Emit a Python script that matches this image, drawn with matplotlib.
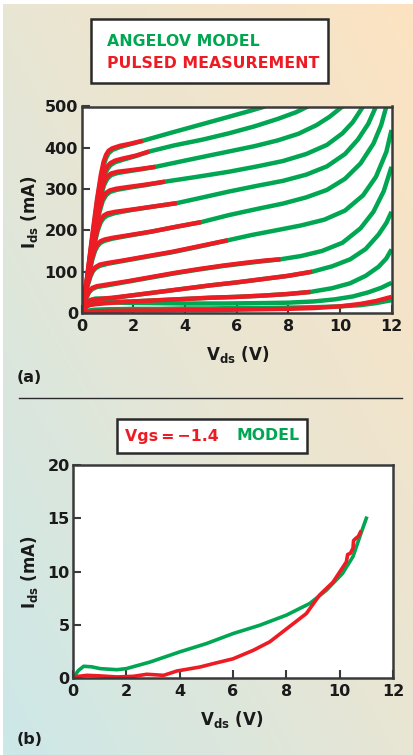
import numpy as np
import matplotlib
matplotlib.use("Agg")
import matplotlib.pyplot as plt
from matplotlib.patches import Rectangle
from matplotlib.lines import Line2D
from matplotlib.colors import LinearSegmentedColormap

plt.rcParams['font.family'] = ['DejaVu Sans']
plt.rcParams['font.weight'] = 'bold'
plt.rcParams['mathtext.default'] = 'bf'

GREEN = '#00a651'
RED = '#ed1c24'
DARK = '#2a2a2a'

# ---- (a) Ids-Vds family: Angelov model (green) and pulsed measurement (red)
model_vds = [
    [0, 0.2, 0.4, 0.6, 0.75, 0.85, 0.95, 1.05, 1.2, 1.5, 1.9, 2.37, 3.5, 4.6, 5.7, 6.5, 7.1],
    [0, 0.2, 0.4, 0.6, 0.75, 0.88, 1.0, 1.12, 1.3, 1.6, 2.1, 2.62, 3.6, 4.7, 5.7, 6.7, 7.6, 8.3, 8.76],
    [0, 0.2, 0.4, 0.6, 0.75, 0.88, 1.0, 1.15, 1.4, 1.8, 2.3, 2.87, 4.0, 5.0, 5.7, 6.7, 7.6, 8.4, 9.1, 9.6, 10.1],
    [0, 0.2, 0.4, 0.55, 0.7, 0.82, 0.95, 1.1, 1.35, 1.8, 2.5, 3.23, 4.5, 5.7, 6.8, 7.8, 8.7, 9.5, 10.1, 10.5, 10.9],
    [0, 0.2, 0.35, 0.5, 0.62, 0.74, 0.86, 1.0, 1.3, 1.9, 2.7, 3.69, 4.7, 5.7, 6.8, 7.8, 8.7, 9.5, 10.2, 10.7, 11.1, 11.4],
    [0, 0.15, 0.3, 0.42, 0.52, 0.62, 0.74, 0.9, 1.2, 1.8, 2.7, 3.6, 4.63, 5.7, 6.8, 7.8, 8.7, 9.5, 10.2, 10.8, 11.3, 11.6, 11.8],
    [0, 0.12, 0.25, 0.35, 0.44, 0.54, 0.7, 1.0, 1.6, 2.5, 3.5, 4.5, 5.66, 6.6, 7.6, 8.5, 9.4, 10.2, 10.9, 11.4, 11.8, 12.0],
    [0, 0.1, 0.2, 0.3, 0.42, 0.6, 1.0, 1.8, 2.7, 3.6, 4.5, 5.5, 6.4, 7.1, 7.7, 8.5, 9.3, 10.1, 10.8, 11.3, 11.7, 12.0],
    [0, 0.1, 0.2, 0.35, 0.55, 0.8, 1.2, 2.0, 3.0, 4.0, 5.0, 6.0, 7.0, 8.0, 8.93, 9.7, 10.4, 11.0, 11.5, 11.8, 12.0],
    [0, 0.1, 0.2, 0.35, 0.6, 1.0, 2.0, 3.0, 4.0, 5.0, 6.0, 7.0, 8.0, 8.86, 9.7, 10.4, 11.0, 11.5, 11.8, 12.0],
    [0, 0.15, 0.3, 0.5, 0.7, 1.0, 1.5, 2.5, 4.0, 5.5, 7.0, 8.0, 9.0, 9.8, 10.5, 11.1, 11.6, 12.0],
    [0, 0.2, 0.5, 1.0, 2.0, 3.0, 4.0, 5.0, 6.0, 7.0, 8.0, 9.0, 10.0, 10.8, 11.4, 12.0],
]
model_ids = [
    [0, 76, 174, 268, 326, 356, 375, 387, 395, 402, 409, 417, 437, 456, 475, 489, 500],
    [0, 72, 165, 250, 302, 332, 348, 358, 365, 371, 380, 391, 406, 420, 435, 452, 470, 486, 500],
    [0, 69, 155, 236, 283, 311, 325, 334, 339, 343, 348, 354, 369, 382, 391, 404, 418, 434, 455, 475, 500],
    [0, 65, 143, 199, 245, 271, 285, 293, 298, 303, 310, 318, 330, 342, 355, 368, 385, 407, 435, 462, 500],
    [0, 61, 116, 165, 198, 219, 230, 236, 242, 249, 257, 266, 280, 294, 308, 320, 335, 355, 385, 420, 458, 500],
    [0, 47, 96, 130, 150, 162, 170, 175, 180, 187, 197, 208, 220, 237, 252, 265, 280, 298, 325, 362, 410, 455, 500],
    [0, 36, 69, 89, 101, 108, 114, 119, 126, 136, 147, 160, 176, 189, 201, 212, 226, 248, 285, 330, 390, 443],
    [0, 20, 38, 51, 58, 63, 67, 76, 86, 96, 105, 114, 121, 126, 130, 138, 150, 170, 205, 245, 295, 354],
    [0, 15, 26, 32, 35, 35, 36, 43, 51, 59, 67, 74, 82, 90, 100, 113, 130, 155, 190, 218, 245],
    [0, 12, 20, 26, 28, 27, 28, 31, 34, 37, 39, 42, 46, 51, 60, 72, 90, 112, 132, 154],
    [0, 12, 20, 26, 28, 27, 25, 24, 23, 23, 24, 25, 28, 33, 40, 50, 61, 73],
    [0, 5, 8, 9, 10, 10, 11, 11, 12, 12, 13, 14, 16, 19, 24, 31],
]

pulsed_vds = [
    [0, 0.2, 0.4, 0.6, 0.75, 0.85, 0.95, 1.05, 1.2, 1.5, 1.9, 2.37],
    [0, 0.2, 0.4, 0.6, 0.75, 0.88, 1.0, 1.12, 1.3, 1.6, 2.1, 2.62],
    [0, 0.2, 0.4, 0.6, 0.75, 0.88, 1.0, 1.15, 1.4, 1.8, 2.3, 2.87],
    [0, 0.2, 0.4, 0.55, 0.7, 0.82, 0.95, 1.1, 1.35, 1.8, 2.5, 3.23],
    [0, 0.2, 0.35, 0.5, 0.62, 0.74, 0.86, 1.0, 1.3, 1.9, 2.7, 3.69],
    [0, 0.15, 0.3, 0.42, 0.52, 0.62, 0.74, 0.9, 1.2, 1.8, 2.7, 3.6, 4.63],
    [0, 0.12, 0.25, 0.35, 0.44, 0.54, 0.7, 1.0, 1.6, 2.5, 3.5, 4.5, 5.66],
    [0, 0.1, 0.2, 0.3, 0.42, 0.6, 1.0, 1.8, 2.7, 3.6, 4.5, 5.5, 6.4, 7.1, 7.7],
    [0, 0.08, 0.16, 0.26, 0.4, 0.7, 1.2, 2.0, 3.0, 4.0, 5.0, 6.0, 7.0, 8.0, 8.93],
    [0, 0.08, 0.16, 0.25, 0.5, 1.0, 2.0, 3.0, 4.0, 5.0, 6.0, 7.0, 8.0, 8.86],
    [0, 0.2, 0.5, 1.0, 2.0, 3.0, 4.0, 5.0, 6.0, 7.0, 8.0, 9.0, 10.0, 10.8, 11.4, 12.0],
]
pulsed_ids = [
    [0, 80, 180, 275, 335, 365, 383, 393, 399, 405, 410, 417],
    [0, 75, 170, 258, 310, 340, 355, 363, 369, 374, 381, 391],
    [0, 72, 160, 243, 290, 318, 331, 338, 342, 345, 349, 354],
    [0, 68, 148, 205, 252, 278, 291, 297, 301, 305, 311, 318],
    [0, 64, 120, 170, 204, 225, 236, 241, 245, 250, 257, 266],
    [0, 50, 100, 135, 155, 167, 174, 178, 182, 188, 197, 208, 220],
    [0, 38, 72, 92, 104, 111, 117, 121, 127, 137, 148, 161, 176],
    [0, 22, 40, 53, 61, 65, 69, 77, 87, 97, 106, 115, 122, 127, 130],
    [0, 10, 19, 27, 31, 34, 37, 43, 51, 59, 67, 74, 82, 90, 100],
    [0, 8, 14, 18, 21, 24, 28, 31, 34, 37, 39, 42, 46, 51],
    [0, 2, 4, 5, 6, 6, 7, 7, 8, 9, 10, 12, 16, 22, 29, 39],
]

# ---- (b) Vgs = -1.4 V
b_model_vds = [0, 0.2, 0.4, 0.7, 1.02, 1.65, 2.0, 2.89, 4.0, 5.0, 6.0, 7.0, 8.0,
               8.88, 9.5, 10.1, 10.5, 10.8, 11.0]
b_model_ids = [0, 0.7, 1.1, 1.05, 0.88, 0.78, 0.88, 1.5, 2.45, 3.23, 4.17, 4.95, 5.9,
               7.0, 8.24, 9.8, 11.4, 13.6, 15.0]
b_pulsed_vds = [0, 0.52, 1.0, 1.65, 2.27, 2.77, 3.4, 3.9, 4.76, 5.26, 6.0, 6.76, 7.38,
                8.0, 8.75, 9.25, 9.75, 10.25, 10.3, 10.4, 10.5, 10.52, 10.6, 10.7, 10.78]
b_pulsed_ids = [0.1, 0.25, 0.2, 0.1, 0.16, 0.35, 0.25, 0.66, 1.03, 1.35, 1.8, 2.6, 3.4,
                4.6, 6.05, 7.8, 9.0, 10.9, 11.6, 11.7, 12.2, 12.9, 13.1, 13.3, 13.7]

W, H = 413, 755
fig = plt.figure(figsize=(W / 100, H / 100), dpi=100)
fig.patch.set_facecolor('white')


def fx(px):
    return px / W


def fy(py):
    return 1 - py / H


# background gradient (teal bottom-left to peach top-right)
bg = fig.add_axes([fx(3), 0, 1 - fx(3), fy(4)])
bg.axis('off')
gx, gy = np.meshgrid(np.linspace(0, 1, 200), np.linspace(1, 0, 300))
cmap = LinearSegmentedColormap.from_list(
    'bg', [(0.80, 0.91, 0.91), (0.91, 0.90, 0.83), (0.99, 0.89, 0.76)])
bg.imshow((gx + gy) / 2, cmap=cmap, aspect='auto', extent=[0, 1, 0, 1],
          origin='upper', vmin=0, vmax=1)


def style_axes(ax, xlim, ylim, xticks, yticks):
    ax.set_facecolor('white')
    ax.set_xlim(*xlim)
    ax.set_ylim(*ylim)
    ax.set_xticks(xticks)
    ax.set_yticks(yticks)
    for s in ax.spines.values():
        s.set_color('#3a3a3a')
        s.set_linewidth(1.8)
    ax.tick_params(direction='in', length=6, width=1.5, colors='#3a3a3a',
                   labelcolor='#1a1a1a', labelsize=11.5)
    ax.tick_params(axis='x', pad=4.5)
    ax.tick_params(axis='y', pad=2.5)
    for lbl in ax.get_xticklabels() + ax.get_yticklabels():
        lbl.set_fontweight('bold')


# ---- panel (a)
ax1 = fig.add_axes([fx(81.5), fy(313), fx(310), 206.5 / H])
style_axes(ax1, (0, 12), (0, 500), range(0, 13, 2), range(0, 501, 100))
for v, i in zip(model_vds, model_ids):
    ax1.plot(v, i, color=GREEN, lw=3.2, solid_joinstyle='round', solid_capstyle='butt')
for v, i in zip(pulsed_vds, pulsed_ids):
    ax1.plot(v, i, color=RED, lw=3.2, solid_joinstyle='round', solid_capstyle='butt')

fig.text(fx(30), fy(212), r'$I_{ds}$ (mA)', rotation=90, ha='center', va='center',
         fontsize=12, color='#1a1a1a')
fig.text(fx(238), fy(355), r'$V_{ds}$ (V)', ha='center', va='center',
         fontsize=12, color='#1a1a1a')
fig.text(fx(29), fy(377), '(a)', ha='center', va='center', fontsize=11.5, color='#1a1a1a')

fig.add_artist(Rectangle((fx(91), fy(83)), fx(237), 64 / H, transform=fig.transFigure,
                         facecolor='white', edgecolor=DARK, lw=1.8))
fig.text(fx(107), fy(41), 'ANGELOV MODEL', color=GREEN, fontsize=11.3,
         ha='left', va='center')
fig.text(fx(107), fy(63), 'PULSED MEASUREMENT', color=RED, fontsize=11.3,
         ha='left', va='center')

# separator
fig.add_artist(Line2D([fx(19), fx(402)], [fy(398), fy(398)], color=DARK, lw=1.0))

# ---- panel (b)
ax2 = fig.add_axes([fx(73), fy(678), fx(320), 213 / H])
style_axes(ax2, (0, 12), (0, 20), range(0, 13, 2), range(0, 21, 5))
ax2.plot(b_model_vds, b_model_ids, color=GREEN, lw=2.6, solid_joinstyle='round')
ax2.plot(b_pulsed_vds, b_pulsed_ids, color=RED, lw=2.6, solid_joinstyle='round')

fig.text(fx(30), fy(572), r'$I_{ds}$ (mA)', rotation=90, ha='center', va='center',
         fontsize=12, color='#1a1a1a')
fig.text(fx(232), fy(720), r'$V_{ds}$ (V)', ha='center', va='center',
         fontsize=12, color='#1a1a1a')
fig.text(fx(30), fy(739), '(b)', ha='center', va='center', fontsize=11.5, color='#1a1a1a')

fig.add_artist(Rectangle((fx(117), fy(453)), fx(190), 34 / H, transform=fig.transFigure,
                         facecolor='white', edgecolor=DARK, lw=1.8))
fig.text(fx(125), fy(436), 'Vgs\u2009=\u2009\u22121.4', color=RED, fontsize=11.3,
         ha='left', va='center')
fig.text(fx(236), fy(436), 'MODEL', color=GREEN, fontsize=11.3,
         ha='left', va='center')

fig.savefig('out.png', dpi=100)
